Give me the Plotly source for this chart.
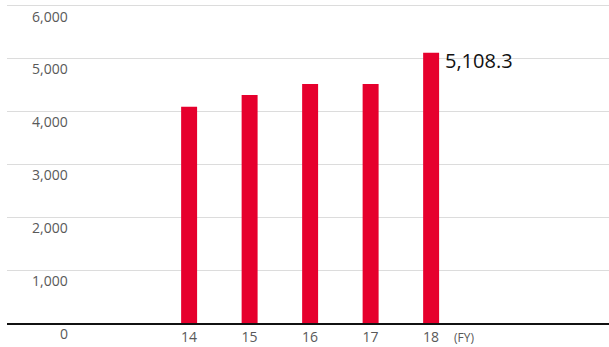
import plotly.graph_objects as go

# Fiscal years and values
years = [14, 15, 16, 17, 18]
year_labels = ["14", "15", "16", "17", "18"]
values = [4087, 4308, 4516, 4519, 5108.3]
latest_label = "5,108.3"

y_ticks = [0, 1000, 2000, 3000, 4000, 5000, 6000]
y_tick_labels = ["0", "1,000", "2,000", "3,000", "4,000", "5,000", "6,000"]

RED = "#E6002D"
GRAY = "#595959"
FONT = "Open Sans"

fig = go.Figure()
fig.add_trace(go.Bar(
    x=years, y=values, width=0.264,
    marker=dict(color=RED, line=dict(width=0)),
    hoverinfo="skip",
))

# y-axis labels sit just below their gridlines, right-aligned
for v, t in zip(y_ticks, y_tick_labels):
    fig.add_annotation(
        x=0, xref="paper", y=v, yref="y", text=t, showarrow=False,
        xanchor="right", yanchor="middle", xshift=63, yshift=-10.5,
        font=dict(family=FONT, size=14, color=GRAY),
    )

# value label for the latest year
fig.add_annotation(
    x=years[-1], y=values[-1], text=latest_label, showarrow=False,
    xanchor="left", yanchor="middle", xshift=12, yshift=-8,
    font=dict(family=FONT, size=20, color="#111111"),
)

# fiscal-year unit marker
fig.add_annotation(
    x=years[-1], xref="x", y=0, yref="paper", text="(FY)", showarrow=False,
    xanchor="center", yanchor="middle", xshift=33, yshift=-14,
    font=dict(family=FONT, size=12, color=GRAY),
)

fig.update_layout(
    width=609, height=347,
    margin=dict(l=7, r=0, t=4, b=24),
    paper_bgcolor="white", plot_bgcolor="white",
    showlegend=False,
    xaxis=dict(
        range=[10.99, 20.94], tickvals=years, ticktext=year_labels,
        showgrid=False, zeroline=False, showline=True,
        linecolor="#111111", linewidth=2, ticks="",
        tickfont=dict(family=FONT, size=14, color=GRAY),
        fixedrange=True,
    ),
    yaxis=dict(
        range=[0, 6030], tickvals=y_ticks, showticklabels=False,
        showgrid=True, gridcolor="#dcdcdc", gridwidth=1,
        zeroline=False, showline=False, ticks="",
        fixedrange=True,
    ),
)

fig.write_html("out.html")
